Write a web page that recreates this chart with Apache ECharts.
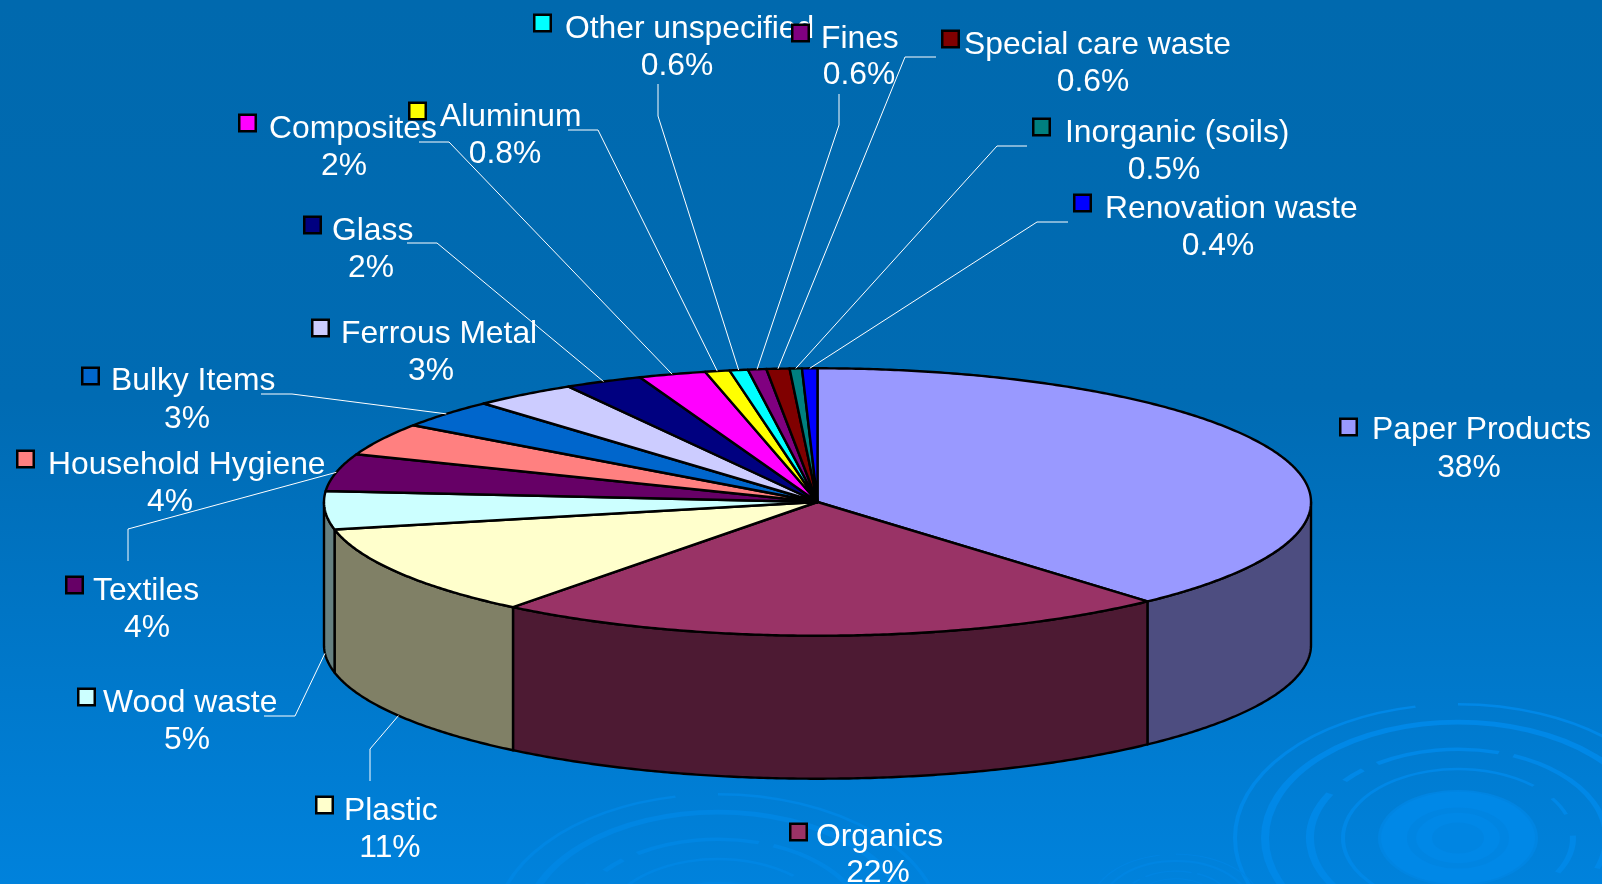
<!DOCTYPE html>
<html>
<head>
<meta charset="utf-8">
<title>Waste composition</title>
<style>
html, body { margin: 0; padding: 0; background: #0069ae; }
#chart_0 { width: 1602px; height: 884px; }
</style>
<script src="https://cdn.jsdelivr.net/npm/echarts@6/dist/echarts.min.js"></script>
</head>
<body>
<div id="chart_0"></div>
<script>
// values, order is clockwise from 12 o'clock
var categories = ['Paper Products', 'Organics', 'Plastic', 'Wood waste', 'Textiles', 'Household Hygiene',
  'Bulky Items', 'Ferrous Metal', 'Glass', 'Composites', 'Aluminum', 'Other unspecified', 'Fines',
  'Special care waste', 'Inorganic (soils)', 'Renovation waste'];
var values = [38.28, 22.2, 11.1, 4.6, 4.5, 3.9, 3.45, 3.4, 2.55, 2.2, 0.8, 0.6, 0.6, 0.75, 0.4, 0.5];
var percentLabels = ['38%', '22%', '11%', '5%', '4%', '4%', '3%', '3%', '2%', '2%', '0.8%', '0.6%', '0.6%', '0.6%', '0.5%', '0.4%'];
var colors = ['#9999ff', '#993366', '#ffffcc', '#ccffff', '#660066', '#ff8080', '#0066cc', '#ccccff',
  '#000080', '#ff00ff', '#ffff00', '#00ffff', '#800080', '#800000', '#008080', '#0000ff'];
var sideColors = ['#4d4d80', '#4d1a33', '#808066', '#668080'];

// where each label sits: key left, key centre y, name left, name middle y, percent centre x, percent middle y
var labelLayout = [
  [1339, 427, 1372, 430, 1469, 468],
  [789, 832, 816, 837, 878, 873],
  [315, 805, 344, 811, 390, 848],
  [77, 697, 103, 703, 187, 740],
  [65, 585, 93, 591, 147, 628],
  [16, 459, 48, 465, 170, 502],
  [81, 376, 111, 381, 187, 419],
  [311, 328, 341, 334, 431, 371],
  [303, 225, 332, 231, 371, 268],
  [238, 123, 269, 129, 344, 166],
  [408, 111, 440, 117, 505, 154],
  [533, 23, 565, 29, 677, 66],
  [791, 33, 821, 39, 859, 75],
  [941, 39, 964, 45, 1093, 82],
  [1032, 127, 1065, 133, 1164, 170],
  [1073, 203, 1105, 209, 1218, 246]
];
// leader elbows, null = the label has no leader. The start is worked out from the slice.
var leaders = [
  null, null,
  [[370, 749], [370, 781]],
  [[295, 716], [264, 716]],
  [[128, 529], [128, 561]],
  null,
  [[292, 394], [261, 394]],
  null,
  [[437, 243], [407, 243]],
  [[449, 142], [419, 142]],
  [[598, 130], [568, 130]],
  [[658, 116], [658, 84]],
  [[839, 125], [839, 94]],
  [[905, 57], [936, 57]],
  [[997, 146], [1027, 146]],
  [[1037, 222], [1068, 222]]
];

var cx = 817.5, cy = 502, rx = 493.5, ry = 133.7, depth = 143;
var font = '31.8px "Liberation Sans", Arial, sans-serif';

var total = values.reduce(function (a, b) { return a + b; }, 0);
var starts = [], run = 0;
values.forEach(function (v) {
  starts.push(run / total * 360);
  run += v;
});

function rim(deg, drop) {
  var a = deg * Math.PI / 180;
  return [cx + rx * Math.sin(a), cy - ry * Math.cos(a) + (drop || 0)];
}
function arcPoints(from, to, drop) {
  var pts = [], n = Math.max(2, Math.ceil((to - from) * 2));
  for (var i = 0; i <= n; i++) {
    pts.push(rim(from + (to - from) * i / n, drop));
  }
  return pts;
}

function renderSide(params, api) {
  var i = params.dataIndex;
  var from = Math.max(starts[i], 90);
  var to = Math.min(starts[i] + api.value(0) / total * 360, 270);
  if (to <= from) return null;
  var pts = arcPoints(from, to, 0).concat(arcPoints(from, to, depth).reverse());
  return {
    type: 'polygon',
    shape: { points: pts },
    style: { fill: sideColors[i] || colors[i], stroke: '#000', lineWidth: 2.4, lineJoin: 'round' }
  };
}

function renderTop(params, api) {
  var i = params.dataIndex;
  var sweep = api.value(0) / total * 360;
  var pts = [[cx, cy]].concat(arcPoints(starts[i], starts[i] + sweep, 0));
  return {
    type: 'polygon',
    shape: { points: pts },
    style: { fill: colors[i], stroke: '#000', lineWidth: 2.4, lineJoin: 'round' }
  };
}

function renderLabel(params, api) {
  var i = params.dataIndex;
  var l = labelLayout[i];
  var children = [];
  if (leaders[i]) {
    var mid = starts[i] + api.value(0) / total * 180;
    // front slices hang their leader from the bottom edge of the wall
    var start = rim(mid, mid > 90 && mid < 270 ? depth : 0);
    children.push({
      type: 'polyline',
      shape: { points: [start].concat(leaders[i]) },
      style: { fill: null, stroke: '#fff', lineWidth: 1 }
    });
  }
  children.push({
    type: 'text',
    style: { text: categories[i], x: l[2], y: l[3], fill: '#fff', font: font, align: 'left', verticalAlign: 'middle' }
  });
  children.push({
    type: 'text',
    style: { text: percentLabels[i], x: l[4], y: l[5], fill: '#fff', font: font, align: 'center', verticalAlign: 'middle' }
  });
  children.push({
    type: 'rect',
    shape: { x: l[0] + 1.25, y: l[1] - 8.25, width: 16.5, height: 16.5 },
    style: { fill: colors[i], stroke: '#000', lineWidth: 2.5 }
  });
  return { type: 'group', children: children };
}

// background water rings: radius, width, from, to (degrees, canvas direction)
var rippleArcs = [
  [40, 80, 0, 360, 'soft'],
  [223, 4, -90, 259],
  [193, 8, 0, 360],
  [148, 6, 237, 286],
  [148, 6, 292, 380],
  [148, 6, 220, 230],
  [148, 8, 140, 210],
  [115, 4, 120, 311],
  [115, 4, 325, 340],
  [115, 6, 358, 390],
  [64, 26, 0, 360],
  [34, 16, 0, 360]
];
function ripple(x, y, scale, color, soft) {
  return rippleArcs.map(function (r) {
    return {
      type: 'arc',
      x: x, y: y, scaleX: scale, scaleY: scale * 0.6,
      silent: true,
      shape: { cx: 0, cy: 0, r: r[0], startAngle: r[2] * Math.PI / 180, endAngle: r[3] * Math.PI / 180, clockwise: true },
      style: { fill: null, stroke: r[4] ? soft : color, lineWidth: r[1] }
    };
  });
}

var myChart = echarts.init(document.getElementById('chart_0'));
var data = values.map(function (v) { return [v]; });

var option = {
  animation: false,
  backgroundColor: new echarts.graphic.LinearGradient(0, 0, 0, 1, [
    { offset: 0, color: '#0069ae' },
    { offset: 0.45, color: '#006bb3' },
    { offset: 1, color: '#0082dc' }
  ]),
  graphic: {
    elements: ripple(1458, 838, 1, '#0088e7', '#0085e2')
      .concat(ripple(718, 928, 1, '#0086e3', '#0083de'), ripple(1176, 905, 0.38, '#0085e2', '#0083de'))
  },
  series: [
    { type: 'custom', coordinateSystem: 'none', name: 'side', silent: true, z: 2, renderItem: renderSide, data: data },
    { type: 'custom', coordinateSystem: 'none', name: 'top', silent: true, z: 3, renderItem: renderTop, data: data },
    { type: 'custom', coordinateSystem: 'none', name: 'labels', silent: true, z: 4, renderItem: renderLabel, data: data }
  ]
};

myChart.setOption(option);
</script>
</body>
</html>
